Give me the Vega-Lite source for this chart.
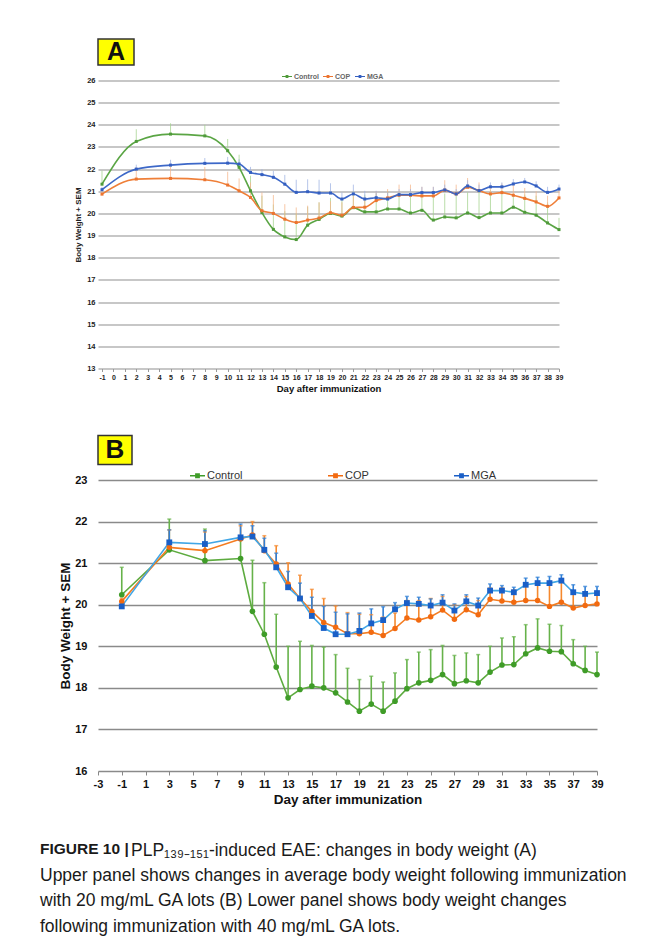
{
"$schema": "https://vega.github.io/schema/vega-lite/v6.json",
"background": "white",
"autosize": {"type": "pad"},
"padding": {"left": 40, "top": 38, "right": 5, "bottom": 10},
"config": {"view": {"stroke": null}, "font": "Liberation Sans"},
"datasets": {
"A": [
{"g":"Control","day":-1,"w":21.32,"hi":21.93},{"g":"Control","day":2,"w":23.25,"hi":23.8},{"g":"Control","day":5,"w":23.58,"hi":24.07},{"g":"Control","day":8,"w":23.5,"hi":24.0},{"g":"Control","day":10,"w":22.83,"hi":23.36},{"g":"Control","day":11,"w":22.08,"hi":22.65},{"g":"Control","day":12,"w":21.02,"hi":21.7},{"g":"Control","day":13,"w":20.04,"hi":20.8},{"g":"Control","day":14,"w":19.28,"hi":20.4},{"g":"Control","day":15,"w":18.94,"hi":20.1},{"g":"Control","day":16,"w":18.82,"hi":20.0},{"g":"Control","day":17,"w":19.47,"hi":20.3},{"g":"Control","day":18,"w":19.73,"hi":20.5},{"g":"Control","day":19,"w":20.0,"hi":20.7},{"g":"Control","day":20,"w":19.88,"hi":20.6},{"g":"Control","day":21,"w":20.26,"hi":21.0},{"g":"Control","day":22,"w":20.07,"hi":20.85},{"g":"Control","day":23,"w":20.07,"hi":20.9},{"g":"Control","day":24,"w":20.2,"hi":21.0},{"g":"Control","day":25,"w":20.2,"hi":20.95},{"g":"Control","day":26,"w":20.02,"hi":20.9},{"g":"Control","day":27,"w":20.14,"hi":21.0},{"g":"Control","day":28,"w":19.7,"hi":20.85},{"g":"Control","day":29,"w":19.84,"hi":20.9},{"g":"Control","day":30,"w":19.8,"hi":21.0},{"g":"Control","day":31,"w":20.02,"hi":20.95},{"g":"Control","day":32,"w":19.81,"hi":21.0},{"g":"Control","day":33,"w":20.02,"hi":21.05},{"g":"Control","day":34,"w":20.02,"hi":21.05},{"g":"Control","day":35,"w":20.28,"hi":20.9},{"g":"Control","day":36,"w":20.05,"hi":20.85},{"g":"Control","day":37,"w":19.92,"hi":20.8},{"g":"Control","day":38,"w":19.57,"hi":20.5},{"g":"Control","day":39,"w":19.27,"hi":19.8},
{"g":"COP","day":-1,"w":20.87,"hi":21.1},{"g":"COP","day":2,"w":21.55,"hi":22.1},{"g":"COP","day":5,"w":21.58,"hi":22.15},{"g":"COP","day":8,"w":21.52,"hi":22.1},{"g":"COP","day":10,"w":21.28,"hi":21.88},{"g":"COP","day":11,"w":21.02,"hi":21.58},{"g":"COP","day":12,"w":20.72,"hi":21.4},{"g":"COP","day":13,"w":20.12,"hi":20.95},{"g":"COP","day":14,"w":20.0,"hi":20.83},{"g":"COP","day":15,"w":19.74,"hi":20.42},{"g":"COP","day":16,"w":19.59,"hi":20.27},{"g":"COP","day":17,"w":19.7,"hi":20.35},{"g":"COP","day":18,"w":19.79,"hi":20.5},{"g":"COP","day":19,"w":20.03,"hi":20.55},{"g":"COP","day":20,"w":19.92,"hi":20.5},{"g":"COP","day":21,"w":20.27,"hi":20.8},{"g":"COP","day":22,"w":20.28,"hi":20.75},{"g":"COP","day":23,"w":20.58,"hi":21.0},{"g":"COP","day":24,"w":20.7,"hi":21.1},{"g":"COP","day":25,"w":20.82,"hi":21.3},{"g":"COP","day":26,"w":20.82,"hi":21.3},{"g":"COP","day":27,"w":20.79,"hi":21.2},{"g":"COP","day":28,"w":20.79,"hi":21.2},{"g":"COP","day":29,"w":21.05,"hi":21.5},{"g":"COP","day":30,"w":20.88,"hi":21.3},{"g":"COP","day":31,"w":21.18,"hi":21.6},{"g":"COP","day":32,"w":21.03,"hi":21.4},{"g":"COP","day":33,"w":20.88,"hi":21.3},{"g":"COP","day":34,"w":20.94,"hi":21.35},{"g":"COP","day":35,"w":20.82,"hi":21.3},{"g":"COP","day":36,"w":20.68,"hi":21.15},{"g":"COP","day":37,"w":20.52,"hi":21.0},{"g":"COP","day":38,"w":20.32,"hi":20.8},{"g":"COP","day":39,"w":20.7,"hi":21.1},
{"g":"MGA","day":-1,"w":21.07,"hi":21.2},{"g":"MGA","day":2,"w":22.0,"hi":22.2},{"g":"MGA","day":5,"w":22.18,"hi":22.42},{"g":"MGA","day":8,"w":22.26,"hi":22.5},{"g":"MGA","day":10,"w":22.27,"hi":22.55},{"g":"MGA","day":11,"w":22.23,"hi":22.45},{"g":"MGA","day":12,"w":21.85,"hi":22.1},{"g":"MGA","day":13,"w":21.75,"hi":22.0},{"g":"MGA","day":14,"w":21.63,"hi":21.92},{"g":"MGA","day":15,"w":21.32,"hi":21.74},{"g":"MGA","day":16,"w":20.95,"hi":21.52},{"g":"MGA","day":17,"w":20.98,"hi":21.54},{"g":"MGA","day":18,"w":20.92,"hi":21.52},{"g":"MGA","day":19,"w":20.92,"hi":21.36},{"g":"MGA","day":20,"w":20.65,"hi":20.95},{"g":"MGA","day":21,"w":20.88,"hi":21.3},{"g":"MGA","day":22,"w":20.65,"hi":21.02},{"g":"MGA","day":23,"w":20.71,"hi":21.02},{"g":"MGA","day":24,"w":20.65,"hi":20.95},{"g":"MGA","day":25,"w":20.85,"hi":21.1},{"g":"MGA","day":26,"w":20.85,"hi":21.1},{"g":"MGA","day":27,"w":20.94,"hi":21.2},{"g":"MGA","day":28,"w":20.94,"hi":21.2},{"g":"MGA","day":29,"w":21.06,"hi":21.3},{"g":"MGA","day":30,"w":20.88,"hi":21.1},{"g":"MGA","day":31,"w":21.24,"hi":21.5},{"g":"MGA","day":32,"w":21.03,"hi":21.3},{"g":"MGA","day":33,"w":21.2,"hi":21.4},{"g":"MGA","day":34,"w":21.2,"hi":21.4},{"g":"MGA","day":35,"w":21.33,"hi":21.55},{"g":"MGA","day":36,"w":21.42,"hi":21.6},{"g":"MGA","day":37,"w":21.24,"hi":21.45},{"g":"MGA","day":38,"w":20.95,"hi":21.2},{"g":"MGA","day":39,"w":21.1,"hi":21.3}
],
"B": [
{"g":"Control","day":-1,"w":20.24,"hi":20.9},{"g":"Control","day":3,"w":21.32,"hi":22.06},{"g":"Control","day":6,"w":21.06,"hi":21.82},{"g":"Control","day":9,"w":21.11,"hi":21.6},{"g":"Control","day":10,"w":19.84,"hi":21.07},{"g":"Control","day":11,"w":19.29,"hi":20.53},{"g":"Control","day":12,"w":18.5,"hi":19.77},{"g":"Control","day":13,"w":17.76,"hi":19.0},{"g":"Control","day":14,"w":17.96,"hi":19.12},{"g":"Control","day":15,"w":18.04,"hi":19.02},{"g":"Control","day":16,"w":18.0,"hi":18.98},{"g":"Control","day":17,"w":17.88,"hi":18.8},{"g":"Control","day":18,"w":17.66,"hi":18.47},{"g":"Control","day":19,"w":17.44,"hi":18.2},{"g":"Control","day":20,"w":17.61,"hi":18.28},{"g":"Control","day":21,"w":17.44,"hi":18.14},{"g":"Control","day":22,"w":17.68,"hi":18.36},{"g":"Control","day":23,"w":17.98,"hi":18.68},{"g":"Control","day":24,"w":18.12,"hi":18.86},{"g":"Control","day":25,"w":18.18,"hi":18.92},{"g":"Control","day":26,"w":18.32,"hi":19.02},{"g":"Control","day":27,"w":18.1,"hi":18.78},{"g":"Control","day":28,"w":18.17,"hi":18.84},{"g":"Control","day":29,"w":18.12,"hi":18.8},{"g":"Control","day":30,"w":18.38,"hi":19.0},{"g":"Control","day":31,"w":18.55,"hi":19.2},{"g":"Control","day":32,"w":18.56,"hi":19.23},{"g":"Control","day":33,"w":18.82,"hi":19.52},{"g":"Control","day":34,"w":18.96,"hi":19.66},{"g":"Control","day":35,"w":18.88,"hi":19.53},{"g":"Control","day":36,"w":18.87,"hi":19.5},{"g":"Control","day":37,"w":18.58,"hi":19.16},{"g":"Control","day":38,"w":18.42,"hi":19.0},{"g":"Control","day":39,"w":18.32,"hi":18.86},
{"g":"COP","day":-1,"w":20.08,"hi":20.15},{"g":"COP","day":3,"w":21.38,"hi":21.8},{"g":"COP","day":6,"w":21.3,"hi":21.75},{"g":"COP","day":9,"w":21.58,"hi":21.9},{"g":"COP","day":10,"w":21.68,"hi":22.0},{"g":"COP","day":11,"w":21.3,"hi":21.66},{"g":"COP","day":12,"w":20.98,"hi":21.42},{"g":"COP","day":13,"w":20.5,"hi":21.01},{"g":"COP","day":14,"w":20.15,"hi":20.71},{"g":"COP","day":15,"w":19.84,"hi":20.37},{"g":"COP","day":16,"w":19.57,"hi":20.15},{"g":"COP","day":17,"w":19.46,"hi":19.97},{"g":"COP","day":18,"w":19.3,"hi":19.81},{"g":"COP","day":19,"w":19.3,"hi":19.77},{"g":"COP","day":20,"w":19.34,"hi":19.76},{"g":"COP","day":21,"w":19.26,"hi":19.7},{"g":"COP","day":22,"w":19.43,"hi":19.8},{"g":"COP","day":23,"w":19.68,"hi":20.1},{"g":"COP","day":24,"w":19.63,"hi":20.1},{"g":"COP","day":25,"w":19.71,"hi":20.15},{"g":"COP","day":26,"w":19.87,"hi":20.2},{"g":"COP","day":27,"w":19.65,"hi":20.0},{"g":"COP","day":28,"w":19.88,"hi":20.2},{"g":"COP","day":29,"w":19.76,"hi":20.1},{"g":"COP","day":30,"w":20.13,"hi":20.4},{"g":"COP","day":31,"w":20.09,"hi":20.4},{"g":"COP","day":32,"w":20.06,"hi":20.35},{"g":"COP","day":33,"w":20.1,"hi":20.5},{"g":"COP","day":34,"w":20.1,"hi":20.5},{"g":"COP","day":35,"w":19.96,"hi":20.55},{"g":"COP","day":36,"w":20.06,"hi":20.55},{"g":"COP","day":37,"w":19.92,"hi":20.3},{"g":"COP","day":38,"w":19.98,"hi":20.3},{"g":"COP","day":39,"w":20.02,"hi":20.3},
{"g":"MGA","day":-1,"w":19.96,"hi":20.0},{"g":"MGA","day":3,"w":21.5,"hi":21.8},{"g":"MGA","day":6,"w":21.46,"hi":21.78},{"g":"MGA","day":9,"w":21.62,"hi":21.94},{"g":"MGA","day":10,"w":21.64,"hi":21.9},{"g":"MGA","day":11,"w":21.32,"hi":21.6},{"g":"MGA","day":12,"w":20.9,"hi":21.24},{"g":"MGA","day":13,"w":20.42,"hi":20.8},{"g":"MGA","day":14,"w":20.15,"hi":20.52},{"g":"MGA","day":15,"w":19.73,"hi":20.18},{"g":"MGA","day":16,"w":19.44,"hi":19.96},{"g":"MGA","day":17,"w":19.29,"hi":19.82},{"g":"MGA","day":18,"w":19.29,"hi":19.78},{"g":"MGA","day":19,"w":19.37,"hi":19.8},{"g":"MGA","day":20,"w":19.55,"hi":19.9},{"g":"MGA","day":21,"w":19.63,"hi":19.95},{"g":"MGA","day":22,"w":19.89,"hi":20.05},{"g":"MGA","day":23,"w":20.04,"hi":20.2},{"g":"MGA","day":24,"w":20.02,"hi":20.18},{"g":"MGA","day":25,"w":19.98,"hi":20.14},{"g":"MGA","day":26,"w":20.05,"hi":20.24},{"g":"MGA","day":27,"w":19.86,"hi":20.02},{"g":"MGA","day":28,"w":20.08,"hi":20.24},{"g":"MGA","day":29,"w":19.98,"hi":20.16},{"g":"MGA","day":30,"w":20.34,"hi":20.5},{"g":"MGA","day":31,"w":20.34,"hi":20.46},{"g":"MGA","day":32,"w":20.3,"hi":20.42},{"g":"MGA","day":33,"w":20.48,"hi":20.64},{"g":"MGA","day":34,"w":20.52,"hi":20.66},{"g":"MGA","day":35,"w":20.52,"hi":20.68},{"g":"MGA","day":36,"w":20.58,"hi":20.72},{"g":"MGA","day":37,"w":20.3,"hi":20.48},{"g":"MGA","day":38,"w":20.26,"hi":20.44},{"g":"MGA","day":39,"w":20.28,"hi":20.44}
]
},
"title": {
"text": "FIGURE 10 |",
"subtitle": ["Upper panel shows changes in average body weight following immunization", "with 20 mg/mL GA lots (B) Lower panel shows body weight changes", "following immunization with 40 mg/mL GA lots."],
"orient": "bottom", "anchor": "start", "frame": "group", "dx": -58, "offset": -17,
"font": "Liberation Sans", "fontSize": 15.5, "fontWeight": "bold", "color": "#1a1a1a",
"subtitleFont": "Liberation Sans", "subtitleFontSize": 17.5, "subtitleFontWeight": "normal", "subtitleColor": "#1a1a1a", "subtitleLineHeight": 25.6, "subtitlePadding": 9
},
"spacing": 15.5,
"bounds": "flush",
"resolve": {
"scale": {"x": "independent", "y": "independent", "color": "independent", "fill": "independent", "stroke": "independent", "shape": "independent", "size": "independent"}
},
"vconcat": [
{
"width": 36, "height": 26,
"view": {"fill": "#ffff00", "stroke": "#333333", "strokeWidth": 1.5},
"data": {"values": [{"t": "A"}]},
"mark": {"type": "text", "font": "Liberation Sans", "fontSize": 25, "fontWeight": "bold", "align": "center", "baseline": "middle", "color": "#111111"},
"encoding": {"text": {"field": "t", "type": "nominal"}}
},
{
"width": 461, "height": 288,
"data": {"name": "A"},
"encoding": {
"x": {"field": "day", "type": "quantitative", "scale": {"domain": [-1.35, 39], "nice": false, "zero": false},
 "axis": {"title": "Day after immunization", "values": [-1,0,1,2,3,4,5,6,7,8,9,10,11,12,13,14,15,16,17,18,19,20,21,22,23,24,25,26,27,28,29,30,31,32,33,34,35,36,37,38,39], "labelExpr": "toString(datum.value)", "grid": false, "domain": false, "ticks": true, "tickSize": 3, "tickColor": "#999999", "labelOverlap": false, "labelFlush": false, "labelFont": "Liberation Sans", "labelFontWeight": "bold", "labelFontSize": 7, "labelColor": "#222222", "labelPadding": 2, "titleFont": "Liberation Sans", "titleFontSize": 9.5, "titleFontWeight": "bold", "titleColor": "#111111", "titlePadding": 3}},
"y": {"field": "w", "type": "quantitative", "scale": {"domain": [13, 26], "nice": false, "zero": false},
 "axis": {"title": "Body Weight + SEM", "values": [13,14,15,16,17,18,19,20,21,22,23,24,25,26], "grid": true, "gridColor": "#b4b4b4", "gridWidth": 1.6, "domain": false, "ticks": false, "labelFont": "Liberation Sans", "labelFontWeight": "bold", "labelFontSize": 7.5, "labelColor": "#222222", "labelPadding": 3, "titleFont": "Liberation Sans", "titleFontSize": 8, "titleFontWeight": "bold", "titleColor": "#222222", "titlePadding": 4}}
},
"layer": [
{
"mark": {"type": "rule", "strokeWidth": 1, "opacity": 0.75},
"encoding": {
"y2": {"field": "hi"},
"color": {"field": "g", "type": "nominal", "scale": {"domain": ["MGA", "COP", "Control"], "range": ["#9db2e2", "#f5b589", "#a3d18c"]}, "legend": null}
}
},
{
"mark": {"type": "line", "interpolate": "monotone", "strokeWidth": 1.6},
"encoding": {
"stroke": {"field": "g", "type": "nominal", "scale": {"domain": ["COP", "Control", "MGA"], "range": ["#ef7f38", "#5aa544", "#3d68c8"]}, "legend": null}
}
},
{
"mark": {"type": "point", "filled": true, "shape": "square", "size": 9, "opacity": 1},
"encoding": {
"fill": {"field": "g", "type": "nominal", "scale": {"domain": ["Control", "COP", "MGA"], "range": ["#4f9a3a", "#ec7430", "#345fc0"]},
 "legend": {"orient": "none", "legendX": 184, "legendY": -9, "direction": "horizontal", "title": null, "symbolType": "M-1,-0.12H1V0.12H-1Z M-0.28,-0.28H0.28V0.28H-0.28Z", "symbolSize": 100, "symbolStrokeWidth": 0, "labelFont": "Liberation Sans", "labelFontSize": 7, "labelFontWeight": "bold", "labelColor": "#666666", "labelOffset": 2, "columnPadding": 4}}
}
}
]
},
{
"width": 36, "height": 36,
"data": {"values": []},
"mark": "point"
},
{
"width": 34, "height": 29,
"view": {"fill": "#ffff00", "stroke": "#333333", "strokeWidth": 1.5},
"data": {"values": [{"t": "B"}]},
"mark": {"type": "text", "font": "Liberation Sans", "fontSize": 26, "fontWeight": "bold", "align": "center", "baseline": "middle", "color": "#111111"},
"encoding": {"text": {"field": "t", "type": "nominal"}}
},
{
"width": 499, "height": 291,
"data": {"name": "B"},
"title": {"text": "PLP\u2081\u2083\u2089\u208b\u2081\u2085\u2081-induced EAE: changes in body weight (A)", "orient": "bottom", "anchor": "start", "frame": "group", "dx": 33, "offset": 36, "font": "Liberation Sans", "fontSize": 17.5, "fontWeight": "normal", "color": "#1a1a1a"},
"encoding": {
"x": {"field": "day", "type": "quantitative", "scale": {"domain": [-3, 39], "nice": false, "zero": false},
 "axis": {"title": "Day after immunization", "values": [-3,-1,1,3,5,7,9,11,13,15,17,19,21,23,25,27,29,31,33,35,37,39], "labelExpr": "toString(datum.value)", "grid": false, "domain": false, "ticks": true, "tickSize": 4, "tickColor": "#888888", "labelOverlap": false, "labelFlush": false, "labelFont": "Liberation Sans", "labelFontWeight": "bold", "labelFontSize": 11, "labelColor": "#111111", "labelPadding": 3, "titleFont": "Liberation Sans", "titleFontSize": 13.5, "titleFontWeight": "bold", "titleColor": "#111111", "titlePadding": 3}},
"y": {"field": "w", "type": "quantitative", "scale": {"domain": [16, 23], "nice": false, "zero": false},
 "axis": {"title": "Body Weight + SEM", "values": [16,17,18,19,20,21,22,23], "grid": true, "gridColor": "#8a8a8a", "gridWidth": 1.5, "domain": false, "ticks": false, "labelFont": "Liberation Sans", "labelFontWeight": "bold", "labelFontSize": 11, "labelColor": "#111111", "labelPadding": 11, "titleFont": "Liberation Sans", "titleFontSize": 13.5, "titleFontWeight": "bold", "titleColor": "#111111", "titlePadding": 2}}
},
"layer": [
{
"mark": {"type": "rule", "strokeWidth": 1.6},
"encoding": {
"y2": {"field": "hi"},
"color": {"field": "g", "type": "nominal", "scale": {"domain": ["MGA", "COP", "Control"], "range": ["#2f7fd6", "#f5892e", "#66b24a"]}, "legend": null}
}
},
{
"mark": {"type": "tick", "orient": "horizontal", "size": 4, "thickness": 1.5},
"encoding": {
"y": {"field": "hi", "type": "quantitative"},
"color": {"field": "g", "type": "nominal", "scale": {"domain": ["MGA", "COP", "Control"], "range": ["#2f7fd6", "#f5892e", "#66b24a"]}, "legend": null}
}
},
{
"mark": {"type": "line", "strokeWidth": 1.6},
"encoding": {
"stroke": {"field": "g", "type": "nominal", "scale": {"domain": ["COP", "Control", "MGA"], "range": ["#f47c20", "#5dab3f", "#41a6e6"]}, "legend": null}
}
},
{
"mark": {"type": "point", "filled": true, "opacity": 1},
"encoding": {
"shape": {"field": "g", "type": "nominal", "scale": {"domain": ["COP", "MGA", "Control"], "range": ["circle", "square", "circle"]}, "legend": null},
"size": {"field": "g", "type": "ordinal", "scale": {"domain": ["MGA", "Control", "COP"], "range": [34, 30, 14]}, "legend": null},
"fill": {"field": "g", "type": "nominal", "scale": {"domain": ["Control", "COP", "MGA"], "range": ["#3f9c28", "#f26a10", "#1a5fc7"]},
 "legend": {"orient": "none", "legendX": 92, "legendY": -12, "direction": "horizontal", "title": null, "symbolType": "M-1,-0.1H1V0.1H-1Z M-0.32,-0.32H0.32V0.32H-0.32Z", "symbolSize": 225, "symbolStrokeWidth": 0, "labelFont": "Liberation Sans", "labelFontSize": 11, "labelColor": "#333333", "labelOffset": 2, "columnPadding": 85}}
}
}
]
}
]
}
